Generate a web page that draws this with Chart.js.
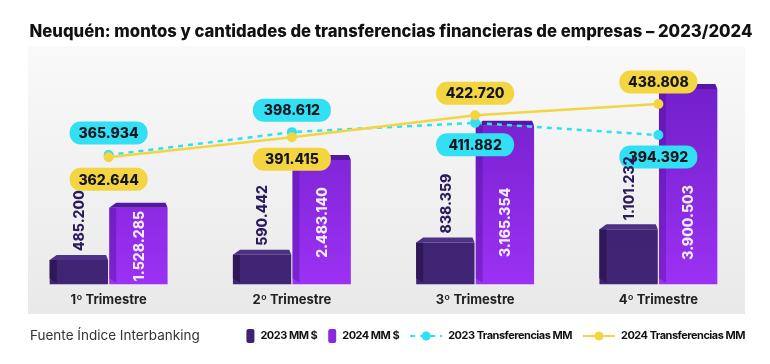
<!DOCTYPE html>
<html>
<head>
<meta charset="utf-8">
<script src="https://cdn.jsdelivr.net/npm/chart.js@4.4.1/dist/chart.umd.min.js"></script>
<style>
  html, body { margin: 0; background: #fff; }
  #wrap { width: 770px; height: 364px; position: relative; }
</style>
</head>
<body>
<div id="wrap"><canvas id="chart"></canvas></div>
<script>
const categories = ['1º Trimestre', '2º Trimestre', '3º Trimestre', '4º Trimestre'];
const montos2023 = [485200, 590442, 838359, 1101232];
const montos2024 = [1528285, 2483140, 3165354, 3900503];
const transf2023 = [365934, 398612, 411882, 394392];
const transf2024 = [362644, 391415, 422720, 438808];
const chartTitle = 'Neuquén: montos y cantidades de transferencias financieras de empresas – 2023/2024';
const sourceNote = 'Fuente Índice Interbanking';

const FONT = "Inter, 'Noto Sans', sans-serif";
const CYAN = '#31e0f2';
const YELLOW = '#f2d541';

const fmt = v => String(v).replace(/\B(?=(\d{3})+(?!\d))/g, '.');

// light gray panel behind the plot + title
const panelPlugin = {
  id: 'panel',
  beforeDraw(chart) {
    const c = chart.ctx;
    const g = c.createLinearGradient(0, 46, 0, 314);
    g.addColorStop(0, '#f9f9f9');
    g.addColorStop(1, '#e9e9e9');
    c.save();
    c.fillStyle = g;
    c.fillRect(28, 46, 717, 268);
    c.font = `800 16.7px ${FONT}`;
    c.fillStyle = '#111';
    c.textAlign = 'center';
    c.textBaseline = 'middle';
    c.fillText(chartTitle, 391, 32);
    c.restore();
  }
};

// fake 3d: top face + darker left side
const bar3dPlugin = {
  id: 'bar3d',
  afterDatasetDraw(chart, args) {
    const ds = chart.data.datasets[args.index];
    if (ds.type !== 'bar') return;
    const c = chart.ctx;
    c.save();
    args.meta.data.forEach(bar => {
      const x0 = bar.x - bar.width / 2, x1 = bar.x + bar.width / 2;
      const d = 7, h = 5;
      c.fillStyle = ds.sideColor;
      c.beginPath();
      c.moveTo(x0, bar.y);
      c.lineTo(x0 + d, bar.y);
      c.lineTo(x0 + d, bar.base - 2);
      c.lineTo(x0, bar.base - 6);
      c.closePath();
      c.fill();
      c.fillStyle = ds.topColor;
      c.beginPath();
      c.moveTo(x0, bar.y);
      c.lineTo(x0 + d, bar.y - h);
      c.lineTo(x1 - 2, bar.y - h);
      c.lineTo(x1, bar.y);
      c.closePath();
      c.fill();
    });
    c.restore();
  }
};

const labelsPlugin = {
  id: 'valueLabels',
  afterDraw(chart) {
    const c = chart.ctx;
    c.save();
    c.font = `800 14px ${FONT}`;
    c.textBaseline = 'middle';

    // line value pills
    const m23 = chart.getDatasetMeta(2).data;
    const m24 = chart.getDatasetMeta(3).data;
    const pill = (pt, text, color, above) => {
      const w = 78, h = 23;
      const cy = above ? pt.y - 22 : pt.y + 22;
      c.fillStyle = color;
      c.beginPath();
      c.roundRect(pt.x - w / 2, cy - h / 2, w, h, 11);
      c.fill();
      c.fillStyle = '#15151f';
      c.textAlign = 'center';
      c.fillText(text, pt.x, cy + 1);
    };
    categories.forEach((_, i) => {
      const up23 = transf2023[i] > transf2024[i];
      pill(m23[i], fmt(transf2023[i]), CYAN, up23);
      pill(m24[i], fmt(transf2024[i]), YELLOW, !up23);
    });

    // bar values, rotated
    chart.getDatasetMeta(0).data.forEach((bar, i) => {
      c.save();
      c.translate(bar.x, bar.y - 9);
      c.rotate(-Math.PI / 2);
      c.textAlign = 'left';
      c.fillStyle = '#2b1a5c';
      c.fillText(fmt(montos2023[i]), 0, 1);
      c.restore();
    });
    chart.getDatasetMeta(1).data.forEach((bar, i) => {
      const cy = Math.max((bar.y + bar.base) / 2, bar.base - 62);
      c.save();
      c.translate(bar.x, cy);
      c.rotate(-Math.PI / 2);
      c.textAlign = 'center';
      c.fillStyle = '#f4ecff';
      c.fillText(fmt(montos2024[i]), 0, 1);
      c.restore();
    });
    c.restore();
  }
};

// source note + legend along the bottom
const legendPlugin = {
  id: 'bottomLegend',
  afterDraw(chart) {
    const c = chart.ctx;
    const y = 336;
    c.save();
    c.textBaseline = 'middle';
    c.font = `400 13.5px ${FONT}`;
    c.fillStyle = '#333';
    c.textAlign = 'left';
    c.fillText(sourceNote, 30, y);

    c.font = `700 11px ${FONT}`;
    c.letterSpacing = '-0.5px';
    const items = chart.data.datasets.map(ds => ({ ds, w: c.measureText(ds.label).width }));
    const markerW = ds => ds.type === 'bar' ? 8 : 32;
    let total = 0;
    items.forEach((it, i) => { total += markerW(it.ds) + 6 + it.w + (i ? 11 : 0); });
    let x = 745 - total;
    items.forEach(({ ds, w }) => {
      if (ds.type === 'bar') {
        c.fillStyle = ds.legendColor;
        c.beginPath();
        c.roundRect(x, y - 7, 8, 14, 2);
        c.fill();
      } else {
        c.strokeStyle = ds.borderColor;
        c.lineWidth = 2;
        c.setLineDash(ds.borderDash || []);
        c.beginPath();
        c.moveTo(x, y);
        c.lineTo(x + 32, y);
        c.stroke();
        c.setLineDash([]);
        c.fillStyle = ds.borderColor;
        c.beginPath();
        c.arc(x + 16, y, 4.5, 0, Math.PI * 2);
        c.fill();
      }
      x += markerW(ds) + 6;
      c.fillStyle = '#111';
      c.fillText(ds.label, x, y);
      x += w + 11;
    });
    c.restore();
  }
};

const vertGradient = (top, bottom) => ctx => {
  const area = ctx.chart.chartArea;
  if (!area) return bottom;
  const g = ctx.chart.ctx.createLinearGradient(0, area.top, 0, area.bottom);
  g.addColorStop(0, top);
  g.addColorStop(1, bottom);
  return g;
};

new Chart(document.getElementById('chart'), {
  data: {
    labels: categories,
    datasets: [
      {
        type: 'bar',
        label: '2023 MM $',
        data: montos2023,
        yAxisID: 'y',
        backgroundColor: vertGradient('#3c2270', '#3f2574'),
        topColor: '#4c3185',
        sideColor: '#2e1858',
        legendColor: '#3d2371',
        barPercentage: 0.98,
        categoryPercentage: 0.65,
        order: 2
      },
      {
        type: 'bar',
        label: '2024 MM $',
        data: montos2024,
        yAxisID: 'y',
        backgroundColor: vertGradient('#6a1cc2', '#9c31f3'),
        topColor: '#5717a6',
        sideColor: 'rgba(70, 10, 150, 0.35)',
        legendColor: '#8a2be2',
        barPercentage: 0.98,
        categoryPercentage: 0.65,
        order: 2
      },
      {
        type: 'line',
        label: '2023 Transferencias MM',
        data: transf2023,
        yAxisID: 'y1',
        borderColor: CYAN,
        backgroundColor: CYAN,
        borderWidth: 2.5,
        borderDash: [5, 5],
        pointRadius: 5,
        pointBorderWidth: 0,
        tension: 0,
        order: 1
      },
      {
        type: 'line',
        label: '2024 Transferencias MM',
        data: transf2024,
        yAxisID: 'y1',
        borderColor: YELLOW,
        backgroundColor: YELLOW,
        borderWidth: 2.5,
        pointRadius: 5,
        pointBorderWidth: 0,
        tension: 0,
        order: 0
      }
    ]
  },
  options: {
    responsive: true,
    maintainAspectRatio: false,
    animation: false,
    layout: { padding: { left: 17, right: 20, top: 50, bottom: 48 } },
    plugins: {
      legend: { display: false },
      tooltip: { enabled: false },
      title: { display: false }
    },
    scales: {
      x: {
        grid: { display: false, drawTicks: false },
        border: { display: false },
        ticks: { color: '#222', padding: 8, font: { family: FONT, size: 13, weight: '700' } }
      },
      y: { display: false, min: 0, max: 4680000 },
      y1: { display: false, position: 'right', min: 181000, max: 516000 }
    }
  },
  plugins: [panelPlugin, bar3dPlugin, labelsPlugin, legendPlugin]
});
</script>
</body>
</html>
